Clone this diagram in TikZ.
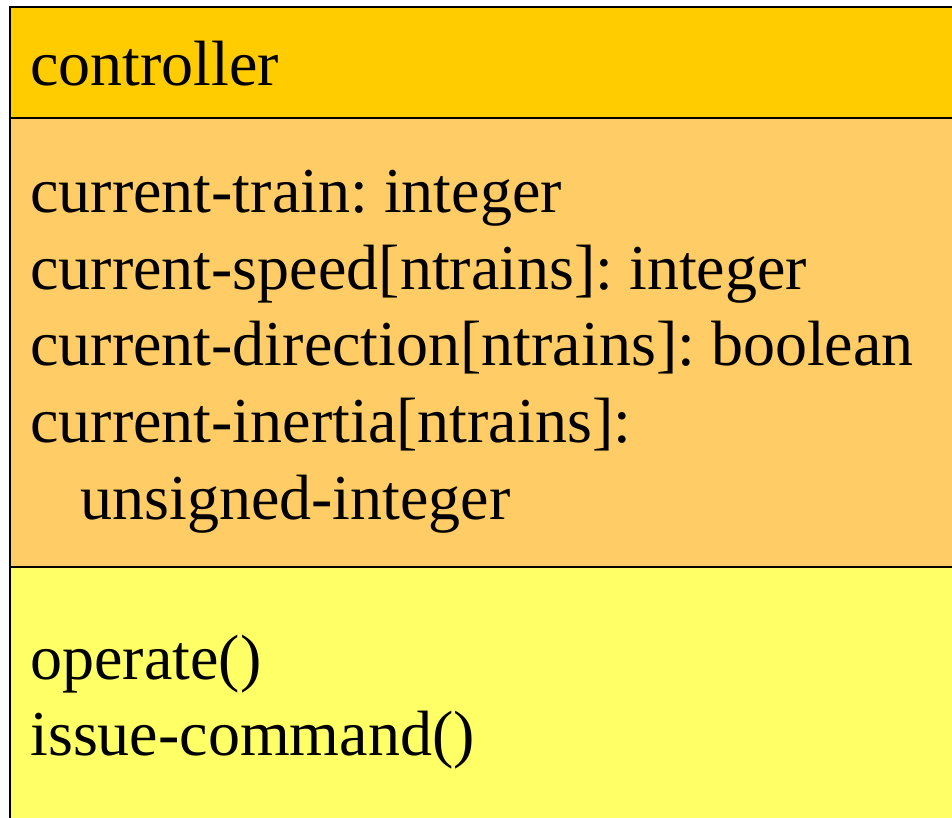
\documentclass[tikz,border=0pt]{standalone}
\usepackage{fontspec}
\setmainfont{Liberation Serif}
\frenchspacing
\definecolor{headgold}{HTML}{FFCC00}
\definecolor{attrorange}{HTML}{FFCC66}
\definecolor{opyellow}{HTML}{FFFF66}
\begin{document}
\begin{tikzpicture}[x=0.5pt,y=-0.5pt,
  member/.style={anchor=base west,inner sep=0pt,font=\fontsize{32}{38}\selectfont},
  frame/.style={draw=black,line width=1pt}]
\useasboundingbox (0,0) rectangle (952,818);
\clip (0,0) rectangle (952,818);
% compartments of the class box
\fill[headgold]   (10,7)   rectangle (990,118.3);
\fill[attrorange] (10,118.3) rectangle (990,567);
\fill[opyellow]   (10,567) rectangle (990,860);
% outline and separators
\draw[frame] (990,7) -- (10,7) -- (10,860);
\draw[frame] (10,118.3) -- (990,118.3);
\draw[frame] (10,567) -- (990,567);
% class name
\node[member] (name) at (30,86) {controller};
% attributes
\node[member] (a1) at (30,212.7) {current-train: integer};
\node[member] (a2) at (30,289.3) {current-speed[ntrains]: integer};
\node[member] (a3) at (30,365.9) {current-direction[ntrains]: boolean};
\node[member] (a4) at (30,442.5) {current-inertia[ntrains]:};
\node[member] (a5) at (80,519.1) {unsigned-integer};
% operations
\node[member] (o1) at (30,679.7) {operate()};
\node[member] (o2) at (30,755.3) {issue-command()};
\end{tikzpicture}
\end{document}
